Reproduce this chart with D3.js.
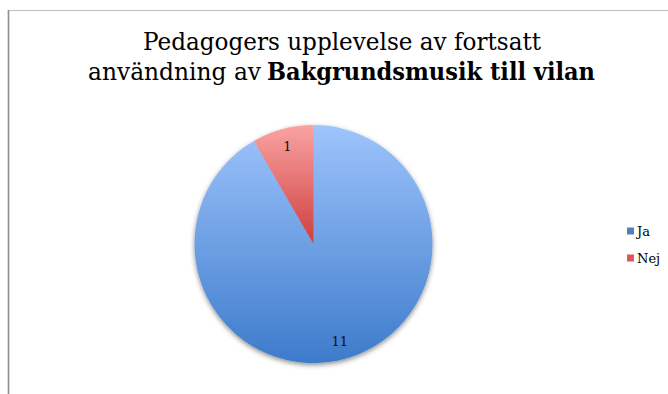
<!DOCTYPE html>
<html lang="sv">
<head>
  <meta charset="UTF-8">
  <title>Bakgrundsmusik till vilan</title>
  <script src="https://d3js.org/d3.v7.min.js"></script>
  <style>
    body { margin: 0; background: #fff; }
  </style>
</head>
<body>
<script>
  const WIDTH = 668;
  const HEIGHT = 394;

  const categories = ['Ja', 'Nej'];
  const values = [11, 1];
  const titleLine1 = 'Pedagogers upplevelse av fortsatt';
  const titlePlain2 = 'användning av';
  const titleBold2 = 'Bakgrundsmusik till vilan';

  const data = categories.map((c, i) => ({ name: c, value: values[i] }));
  const FONT = '"DejaVu Serif", "Liberation Serif", serif';

  const svg = d3.select('body').append('svg')
    .attr('width', WIDTH)
    .attr('height', HEIGHT)
    .attr('font-family', FONT);

  const defs = svg.append('defs');

  const blueGrad = defs.append('linearGradient')
    .attr('id', 'gradJa').attr('x1', 0).attr('y1', 0).attr('x2', 0).attr('y2', 1);
  blueGrad.append('stop').attr('offset', '0%').attr('stop-color', '#9ec4fc');
  blueGrad.append('stop').attr('offset', '100%').attr('stop-color', '#3d7bcb');

  const redGrad = defs.append('linearGradient')
    .attr('id', 'gradNej').attr('x1', 0).attr('y1', 0).attr('x2', 0).attr('y2', 1);
  redGrad.append('stop').attr('offset', '0%').attr('stop-color', '#faa3a3');
  redGrad.append('stop').attr('offset', '100%').attr('stop-color', '#cf3d3d');

  const shadow = defs.append('filter').attr('id', 'shadow')
    .attr('x', '-10%').attr('y', '-10%').attr('width', '120%').attr('height', '125%');
  shadow.append('feDropShadow')
    .attr('dx', 0).attr('dy', 2).attr('stdDeviation', 2.5)
    .attr('flood-color', '#000').attr('flood-opacity', 0.45);

  const fills = d3.scaleOrdinal()
    .domain(categories)
    .range(['url(#gradJa)', 'url(#gradNej)']);
  const legendColors = d3.scaleOrdinal()
    .domain(categories)
    .range(['#4f81bd', '#e05555']);

  // chart frame (only top and left edges visible)
  svg.append('line')
    .attr('x1', 8.5).attr('y1', 10.5).attr('x2', WIDTH).attr('y2', 10.5)
    .attr('stroke', '#bdbdbd').attr('stroke-width', 1.2);
  svg.append('line')
    .attr('x1', 8.5).attr('y1', 10).attr('x2', 8.5).attr('y2', HEIGHT)
    .attr('stroke', '#8c8c8c').attr('stroke-width', 1.6);

  // title (widths stretched to match the original Cambria metrics)
  const titleG = svg.append('g')
    .attr('font-size', 25)
    .attr('fill', '#000');
  titleG.append('text')
    .attr('x', 143).attr('y', 50)
    .attr('textLength', 398).attr('lengthAdjust', 'spacingAndGlyphs')
    .text(titleLine1);
  titleG.append('text')
    .attr('x', 88).attr('y', 80)
    .attr('textLength', 173).attr('lengthAdjust', 'spacingAndGlyphs')
    .text(titlePlain2);
  titleG.append('text')
    .attr('x', 267).attr('y', 80)
    .attr('font-weight', 'bold')
    .attr('textLength', 328).attr('lengthAdjust', 'spacingAndGlyphs')
    .text(titleBold2);

  // pie
  const cx = 313.5, cy = 244, radius = 119;
  const pie = d3.pie().sort(null).value(d => d.value);
  const arc = d3.arc().innerRadius(0).outerRadius(radius);
  const labelArc = d3.arc().innerRadius(101).outerRadius(101);

  const g = svg.append('g').attr('transform', `translate(${cx},${cy})`);
  const arcs = pie(data);

  g.append('g').attr('filter', 'url(#shadow)')
    .selectAll('path')
    .data(arcs)
    .enter()
    .append('path')
    .attr('d', arc)
    .attr('fill', d => fills(d.data.name));

  g.selectAll('text.lbl')
    .data(arcs)
    .enter()
    .append('text')
    .attr('class', 'lbl')
    .attr('transform', d => `translate(${labelArc.centroid(d)})`)
    .attr('text-anchor', 'middle')
    .attr('dy', '0.35em')
    .attr('font-size', 13)
    .attr('fill', '#111')
    .text(d => d.data.value);

  // legend
  const legend = svg.append('g').attr('transform', 'translate(627, 231)');
  const item = legend.selectAll('g')
    .data(categories)
    .enter()
    .append('g')
    .attr('transform', (d, i) => `translate(0, ${i * 27})`);
  item.append('rect')
    .attr('x', 0).attr('y', -3.5)
    .attr('width', 7).attr('height', 7)
    .attr('fill', d => legendColors(d));
  item.append('text')
    .attr('x', 10).attr('dy', '0.35em')
    .attr('font-size', 13)
    .attr('fill', '#000')
    .text(d => d);
</script>
</body>
</html>
